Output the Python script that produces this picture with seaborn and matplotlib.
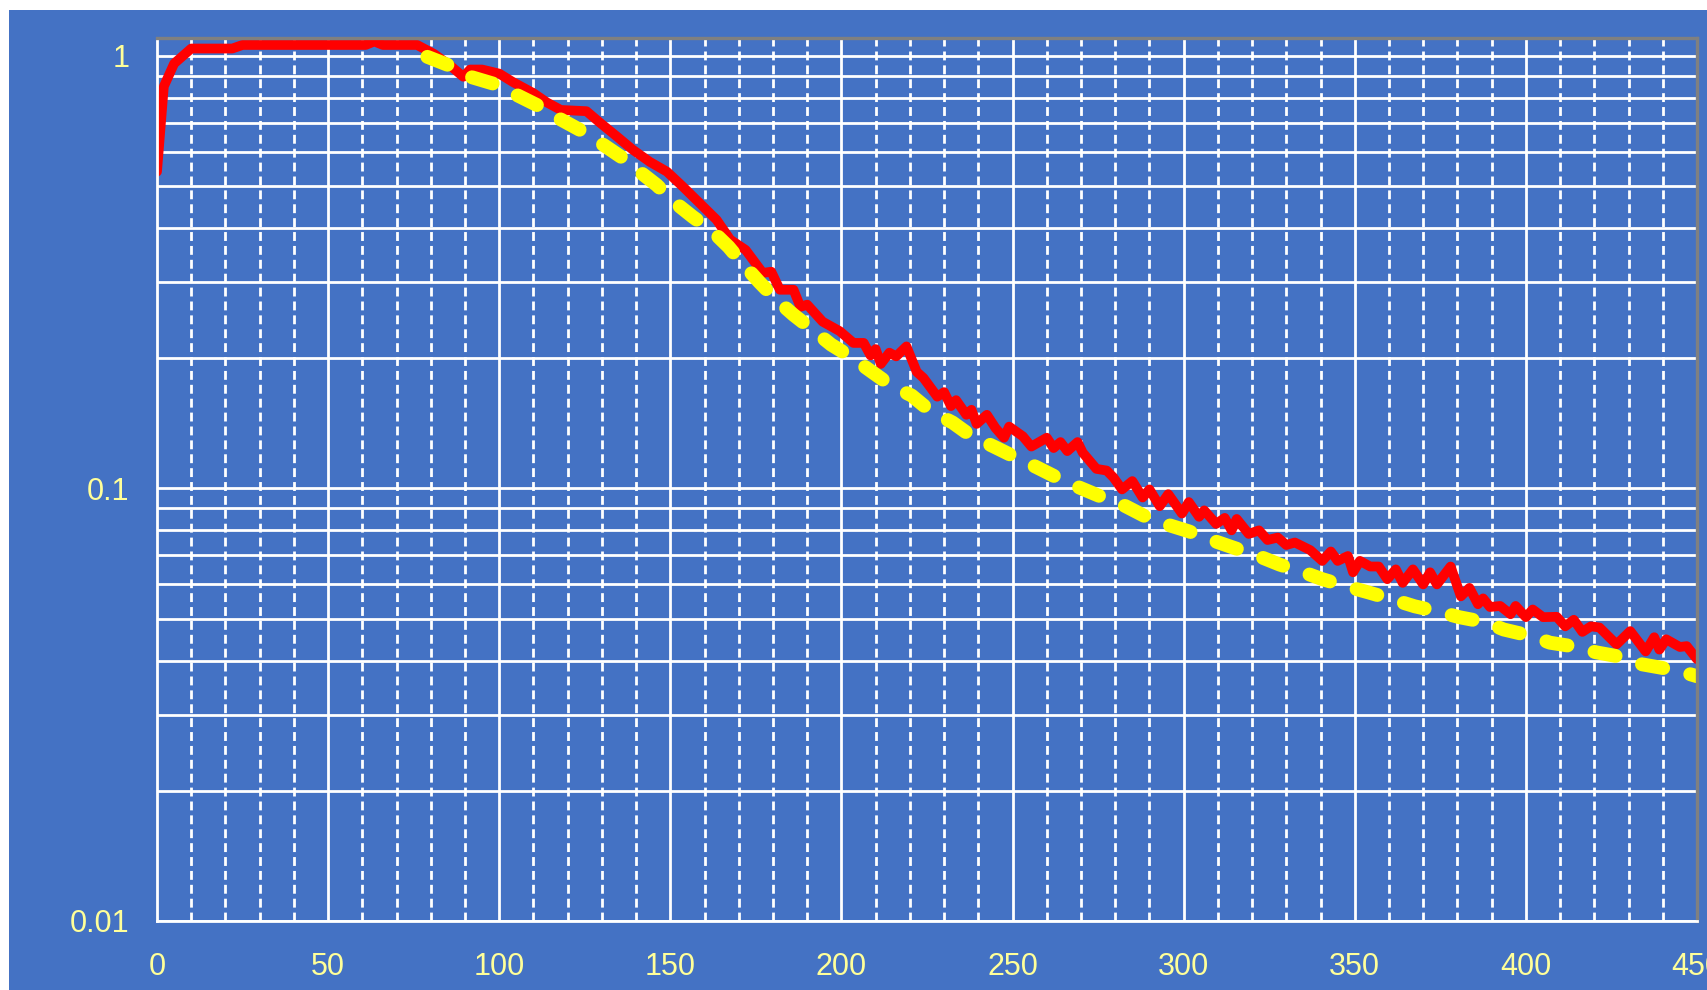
import numpy as np
import pandas as pd
import matplotlib
matplotlib.use("Agg")
import matplotlib.pyplot as plt
from matplotlib.patches import Rectangle
from matplotlib.ticker import FixedLocator, NullFormatter, FixedFormatter
import seaborn as sns

# Measured survival fraction (red) vs. time
measured_x = [0, 2, 5, 10, 22, 25, 61, 63.5, 66, 76, 81, 86, 89.5, 91.5, 95, 100, 104,
              110, 114, 118, 125.5, 129.5, 134.5, 139, 144, 149, 153.5, 158.5, 163.5,
              167.5, 172, 177, 179.5, 182, 186, 188, 190, 194.5, 199.5, 203.5, 206.5,
              208.5, 210, 211.5, 214, 216, 219, 222, 224, 228, 230, 232, 233.5, 236.5,
              238, 239.5, 242.5, 245, 247.5, 249, 253, 255.5, 260, 262, 264, 266, 269,
              270.5, 274.5, 277.5, 279.5, 282, 285, 288, 290, 293, 295.5, 299.5, 301.5,
              304.5, 306, 309.5, 312, 314, 315.5, 319, 322, 324.5, 327.5, 330, 332.5,
              335.5, 337, 340.5, 343, 345, 348, 349.5, 351.5, 354.5, 357, 359.5, 362,
              364, 367, 370, 372, 374, 378, 381, 383.5, 386, 387.5, 389.5, 392.5, 395.5,
              397, 400, 402, 405, 409, 411.5, 414, 416.5, 419, 421.5, 426.5, 430.5, 435,
              437.5, 439, 441, 445, 447, 450]
measured_y = [0.54, 0.85, 0.96, 1.04, 1.04, 1.06, 1.06, 1.08, 1.06, 1.06, 1.01, 0.945,
              0.895, 0.93, 0.93, 0.91, 0.87, 0.82, 0.78, 0.75, 0.745, 0.70, 0.65, 0.607,
              0.569, 0.54, 0.50, 0.457, 0.418, 0.376, 0.356, 0.315, 0.317, 0.288, 0.288,
              0.263, 0.266, 0.243, 0.231, 0.217, 0.217, 0.203, 0.21, 0.194, 0.206, 0.202,
              0.213, 0.186, 0.18, 0.163, 0.167, 0.155, 0.16, 0.148, 0.152, 0.141, 0.148,
              0.138, 0.131, 0.139, 0.132, 0.125, 0.131, 0.124, 0.128, 0.122, 0.128,
              0.121, 0.111, 0.110, 0.106, 0.0995, 0.104, 0.0953, 0.0995, 0.091, 0.097,
              0.0875, 0.093, 0.086, 0.089, 0.0828, 0.0855, 0.080, 0.085, 0.0785, 0.080,
              0.076, 0.077, 0.074, 0.075, 0.073, 0.072, 0.068, 0.0715, 0.068, 0.0698,
              0.064, 0.068, 0.066, 0.066, 0.0617, 0.065, 0.0605, 0.065, 0.060, 0.064,
              0.060, 0.066, 0.0563, 0.0589, 0.054, 0.0557, 0.0532, 0.0535, 0.0512,
              0.0535, 0.0504, 0.0525, 0.0504, 0.0505, 0.048, 0.0497, 0.0466, 0.048,
              0.0477, 0.0436, 0.0468, 0.042, 0.0453, 0.0424, 0.0448, 0.043, 0.0432,
              0.0403]

# Model curve (yellow, dashed)
model_x = [79, 86.5, 91.5, 99.5, 105, 112, 117, 123.5, 129.5, 135.5, 141, 146, 151.5,
           156.5, 162.5, 167, 171, 176, 181, 186, 191.5, 197, 203, 208.5, 214.5, 220.5,
           226, 232.5, 237.5, 244.5, 250, 257, 263, 269.5, 275.5, 283, 289, 295, 301.5,
           308.5, 314.5, 322, 328, 335, 340.5, 347.5, 354, 361, 367.5, 375, 380.5,
           388.5, 393.5, 402, 407, 415, 420.5, 428.5, 434, 442, 448, 450]
model_y = [0.995, 0.943, 0.895, 0.857, 0.813, 0.763, 0.72, 0.675, 0.63, 0.585, 0.54,
           0.503, 0.457, 0.425, 0.392, 0.362, 0.332, 0.30, 0.273, 0.252, 0.233, 0.215,
           0.201, 0.187, 0.173, 0.164, 0.151, 0.142, 0.133, 0.125, 0.119, 0.112, 0.106,
           0.1005, 0.096, 0.091, 0.086, 0.0826, 0.0796, 0.0758, 0.073, 0.0697, 0.0667,
           0.064, 0.0617, 0.0594, 0.0575, 0.0554, 0.0534, 0.0518, 0.0504, 0.049,
           0.0472, 0.0455, 0.044, 0.043, 0.0418, 0.0407, 0.0392, 0.0382, 0.0372,
           0.0368]

y_major = [0.01, 0.1, 1]
y_major_labels = ["0.01", "0.1", "1"]
x_major = [0, 50, 100, 150, 200, 250, 300, 350, 400, 450]

BLUE = "#4472C4"
LABEL = "#FFFF99"
GRID_LW = 2.0

sns.set_theme(style="white")
plt.rcParams["font.family"] = ["Liberation Sans", "DejaVu Sans"]

fig = plt.figure(figsize=(17.08, 9.90), dpi=100, facecolor="white")
# blue slide background, leaving a thin white strip at the top and left
fig.patches.append(Rectangle((9 / 1708, 0), 1 - 9 / 1708, 1 - 10 / 990,
                             transform=fig.transFigure, facecolor=BLUE,
                             edgecolor="none", zorder=-10))

ax = fig.add_axes([157 / 1708, 1 - 921 / 990, (1697 - 157) / 1708, (921 - 38) / 990])
ax.set_facecolor(BLUE)

measured = pd.DataFrame({"t": measured_x, "s": measured_y})
model = pd.DataFrame({"t": model_x, "s": model_y})

ax.set_yscale("log")
ax.set_xlim(0, 450)
ax.set_ylim(0.01, 1.1)

# grid: solid white at every log subdivision, solid at 50s and dashed at 10s on x
for dec in (0.01, 0.1):
    for m in range(1, 10):
        ax.axhline(dec * m, color="white", lw=GRID_LW, zorder=1)
ax.axhline(1.0, color="white", lw=GRID_LW, zorder=1)
for xv in range(10, 450, 10):
    if xv % 50 == 0:
        ax.axvline(xv, color="white", lw=GRID_LW, zorder=1)
    else:
        ax.axvline(xv, color="white", lw=GRID_LW, linestyle=(0, (3.2, 1.8)), zorder=1)

sns.lineplot(data=measured, x="t", y="s", ax=ax, color="#FF0000", lw=7.0,
             solid_joinstyle="round", solid_capstyle="round", zorder=3,
             estimator=None, sort=False)
sns.lineplot(data=model, x="t", y="s", ax=ax, color="#FFFF00", lw=10.0,
             linestyle=(0, (1.55, 2.0)), dash_capstyle="round", zorder=4,
             estimator=None, sort=False)

ax.set_xlabel("")
ax.set_ylabel("")

ax.yaxis.set_major_locator(FixedLocator(y_major))
ax.yaxis.set_major_formatter(FixedFormatter(y_major_labels))
ax.yaxis.set_minor_locator(FixedLocator([]))
ax.yaxis.set_minor_formatter(NullFormatter())
ax.set_xticks(x_major)
ax.set_xticklabels([str(v) for v in x_major])

ax.tick_params(axis="both", which="major", direction="out", length=7, width=GRID_LW,
               color="white", labelcolor=LABEL, labelsize=22)
ax.tick_params(axis="y", pad=13)
ax.tick_params(axis="x", pad=15)
ax.tick_params(axis="both", which="minor", length=0)

for side in ("left", "bottom"):
    ax.spines[side].set_color("white")
    ax.spines[side].set_linewidth(GRID_LW)
for side in ("top", "right"):
    ax.spines[side].set_color("#808080")
    ax.spines[side].set_linewidth(2.4)
for s in ax.spines.values():
    s.set_zorder(5)

fig.savefig("out.png", dpi=100, facecolor="white")
